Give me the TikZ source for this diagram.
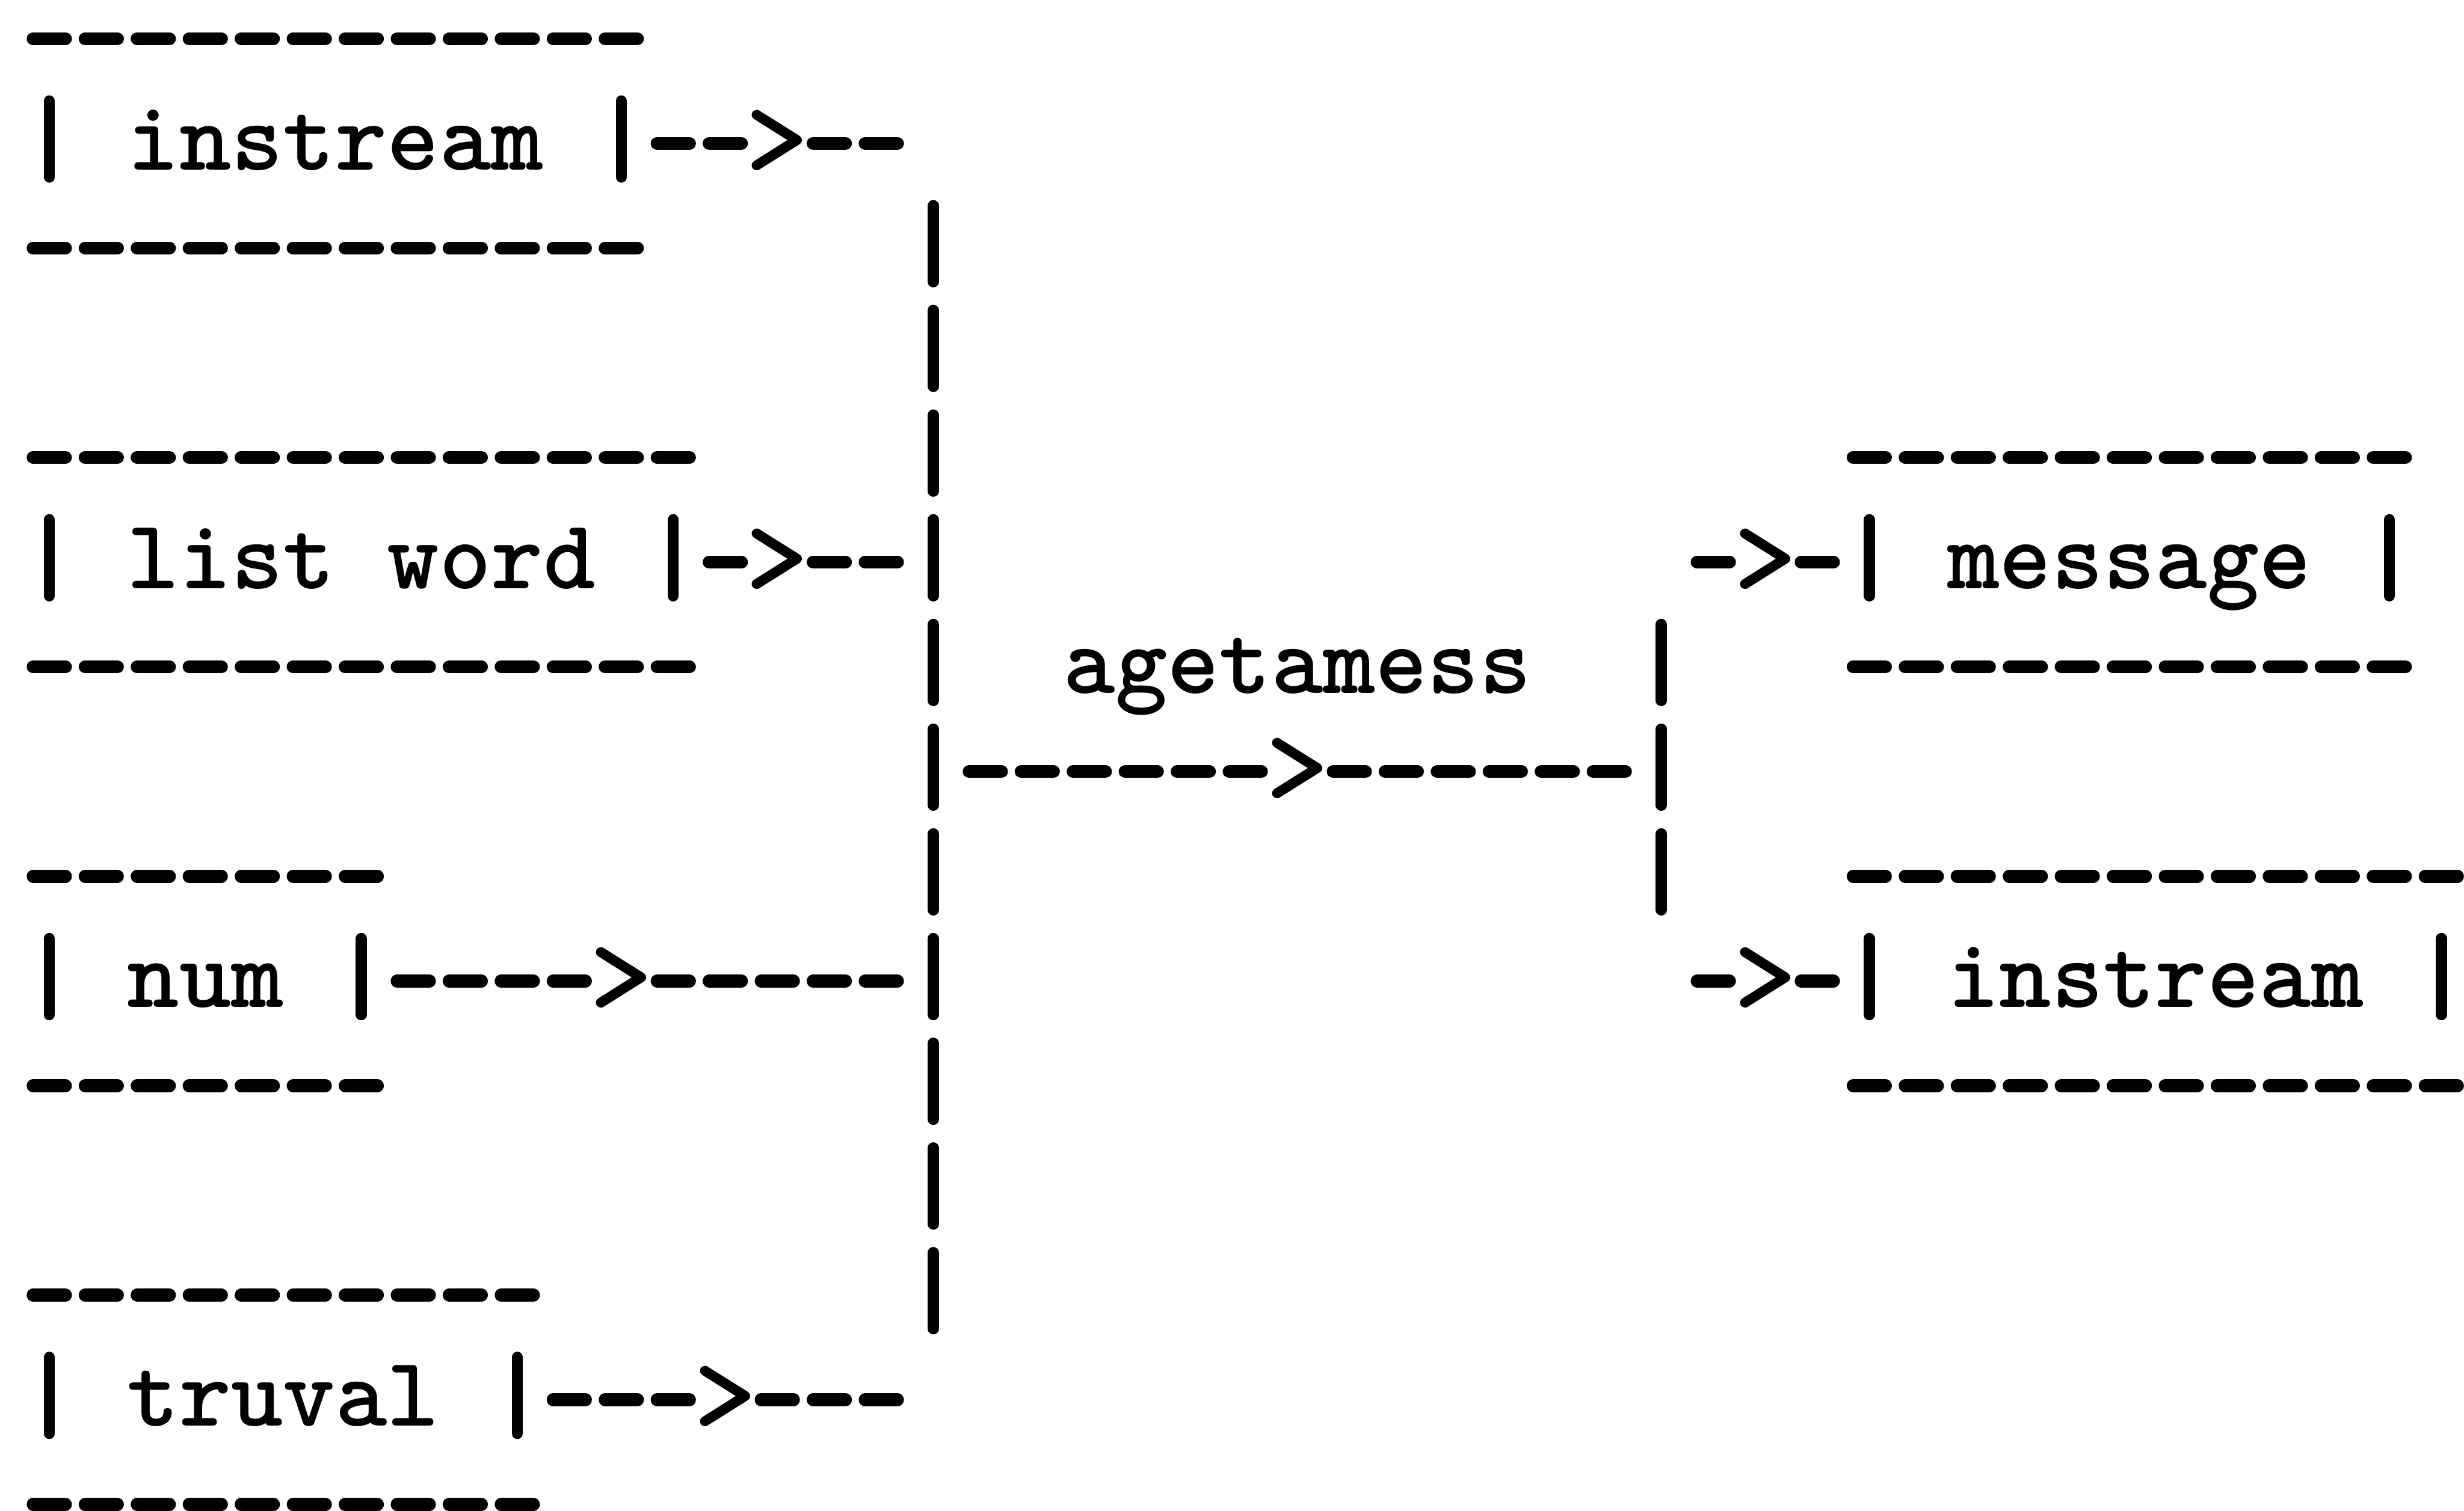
\documentclass[tikz,border=0pt]{standalone}

% typewriter grid: one column = 8.87pt, one line = 17.86pt
\newcommand\tw{\fontsize{16.9pt}{17.86pt}\selectfont\ttfamily\bfseries}
\newcommand\twtip{\fontsize{20.5pt}{17.86pt}\selectfont\ttfamily\bfseries}

% a run of typed hyphens on line #1, columns #2 to #3
\newcommand\hdash[3]{\draw[dashrun] ({#2+0.189},#1) -- ({#3+0.811},#1);}
% a typed vertical bar on line #1, column #2
\newcommand\vbar[2]{\draw[vbar] ({#2+0.5},{#1-0.406}) -- ({#2+0.5},{#1+0.322});}
% hyphens from column #2, an arrow tip at column #3, hyphens up to column #4
\newcommand\arrowrun[4]{%
  \hdash{#1}{#2}{#3-1}%
  \node[tip] (tip-#1-#3) at ({#3+0.5},#1) {>};%
  \hdash{#1}{#3+1}{#4}}

\begin{document}
\begin{tikzpicture}[x=8.87pt,y=-17.86pt,
  dashrun/.style={line width=2.2pt,line cap=round,dash pattern=on 5.52pt off 3.35pt},
  vbar/.style={line width=1.9pt,line cap=round},
  word/.style={anchor=base west,inner sep=0pt,outer sep=0pt,font=\tw},
  tip/.style={anchor=center,inner sep=0pt,outer sep=0pt,font=\twtip}]

\useasboundingbox (-3.97pt,6.6pt) rectangle (416.33pt,-251.1pt);

% ---- input boxes ----
% instream
\hdash{0}{0}{11}
\vbar{1}{0}
\node[word] (inA) at (2,1.252) {instream};
\vbar{1}{11}
\arrowrun{1}{12}{14}{16}
\hdash{2}{0}{11}

% list word
\hdash{4}{0}{12}
\vbar{5}{0}
\node[word] (inB) at (2,5.252) {list word};
\vbar{5}{12}
\arrowrun{5}{13}{14}{16}
\hdash{6}{0}{12}

% num
\hdash{8}{0}{6}
\vbar{9}{0}
\node[word] (inC) at (2,9.252) {num};
\vbar{9}{6}
\arrowrun{9}{7}{11}{16}
\hdash{10}{0}{6}

% truval
\hdash{12}{0}{9}
\vbar{13}{0}
\node[word] (inD) at (2,13.252) {truval};
\vbar{13}{9}
\arrowrun{13}{10}{13}{16}
\hdash{14}{0}{9}

% ---- collecting bus ----
\foreach \r in {2,...,12} {\vbar{\r}{17}}

% ---- process ----
\node[word] (proc) at (20,6.252) {agetamess};
\arrowrun{7}{18}{24}{30}
\foreach \r in {6,7,8} {\vbar{\r}{31}}

% ---- output boxes ----
% message
\hdash{4}{35}{45}
\arrowrun{5}{32}{33}{34}
\vbar{5}{35}
\node[word] (outA) at (37,5.252) {message};
\vbar{5}{45}
\hdash{6}{35}{45}

% instream
\hdash{8}{35}{46}
\arrowrun{9}{32}{33}{34}
\vbar{9}{35}
\node[word] (outB) at (37,9.252) {instream};
\vbar{9}{46}
\hdash{10}{35}{46}

\end{tikzpicture}
\end{document}
